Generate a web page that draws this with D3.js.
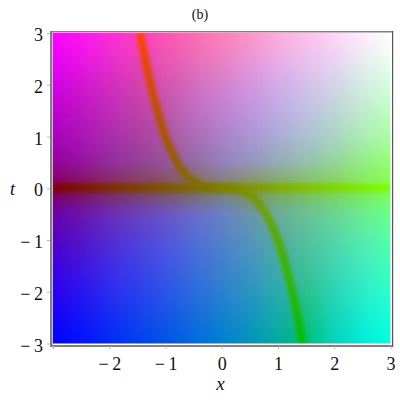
<!DOCTYPE html>
<html>
<head>
<meta charset="utf-8">
<script src="https://cdnjs.cloudflare.com/ajax/libs/d3/7.8.5/d3.min.js"></script>
<style>
  html, body { margin: 0; padding: 0; background: #fff; }
  text { font-family: "Liberation Serif", serif; fill: #111; }
</style>
</head>
<body>
<div id="chart"></div>
<script>
const width = 400, height = 400;

// sample positions of the colour table
const xGrid = [-3, -2.5, -2, -1.5, -1, -0.5, 0, 0.5, 1, 1.5, 2, 2.5, 3];
const tGrid = [3, 2.5, 2, 1.5, 1, 0.5, 0, -0.5, -1, -1.5, -2, -2.5, -3];

// red follows t, green follows x
const redByT = [1, 0.92, 0.83, 0.75, 0.67, 0.58, 0.5, 0.42, 0.33, 0.25, 0.17, 0.08, 0];
const greenByX = [0, 0.08, 0.17, 0.25, 0.33, 0.42, 0.5, 0.58, 0.67, 0.75, 0.83, 0.92, 1];

// blue, rows are tGrid, columns are xGrid
const blueTable = [
  [1.00, 0.95, 0.86, 0.76, 0.72, 0.70, 0.72, 0.78, 0.86, 0.92, 0.96, 0.99, 1.00],
  [0.97, 0.90, 0.82, 0.72, 0.70, 0.72, 0.76, 0.84, 0.90, 0.93, 0.95, 0.95, 0.94],
  [0.90, 0.82, 0.76, 0.68, 0.68, 0.74, 0.80, 0.87, 0.91, 0.92, 0.91, 0.89, 0.87],
  [0.82, 0.76, 0.72, 0.66, 0.66, 0.76, 0.82, 0.87, 0.89, 0.88, 0.85, 0.80, 0.76],
  [0.74, 0.72, 0.68, 0.64, 0.62, 0.72, 0.78, 0.83, 0.84, 0.82, 0.77, 0.71, 0.64],
  [0.62, 0.62, 0.62, 0.60, 0.60, 0.62, 0.74, 0.75, 0.72, 0.68, 0.60, 0.52, 0.44],
  [0.30, 0.30, 0.30, 0.30, 0.30, 0.30, 0.40, 0.30, 0.30, 0.30, 0.30, 0.30, 0.30],
  [0.66, 0.68, 0.72, 0.74, 0.76, 0.78, 0.78, 0.66, 0.60, 0.58, 0.58, 0.56, 0.54],
  [0.76, 0.78, 0.82, 0.84, 0.86, 0.84, 0.78, 0.74, 0.62, 0.62, 0.66, 0.68, 0.66],
  [0.86, 0.88, 0.90, 0.91, 0.90, 0.86, 0.80, 0.76, 0.66, 0.60, 0.70, 0.74, 0.74],
  [0.94, 0.94, 0.94, 0.93, 0.91, 0.87, 0.82, 0.76, 0.68, 0.56, 0.70, 0.78, 0.80],
  [0.98, 0.97, 0.96, 0.94, 0.91, 0.87, 0.82, 0.76, 0.66, 0.50, 0.72, 0.82, 0.85],
  [1.00, 0.99, 0.97, 0.95, 0.91, 0.87, 0.82, 0.74, 0.62, 0.46, 0.74, 0.84, 0.88]
];

// the dark curve through the field, (x, t)
const curveX = [-1.45, -1.36, -1.26, -1.14, -1.0, -0.79, -0.63, -0.46, -0.22, 0, 0.22, 0.46, 0.63, 0.79, 1.0, 1.14, 1.26, 1.36, 1.44];
const curveT = [3, 2.5, 2, 1.5, 1, 0.5, 0.25, 0.1, 0.01, 0, -0.01, -0.1, -0.25, -0.5, -1, -1.5, -2, -2.5, -3];
const lineX = [-3, 3];
const lineT = [0, 0];

const tickValues = [-3, -2, -1, 0, 1, 2, 3];

const svg = d3.select("#chart").append("svg")
  .attr("width", width)
  .attr("height", height)
  .style("display", "block");

const x = d3.scaleLinear().domain([-3, 3]).range([53, 390.5]);
const y = d3.scaleLinear().domain([-3, 3]).range([343.5, 33]);

// bilinear lookup in the blue table
const xIndex = d3.scaleLinear().domain(xGrid).range(d3.range(xGrid.length));
const tIndex = d3.scaleLinear().domain(tGrid).range(d3.range(tGrid.length));
const redScale = d3.scaleLinear().domain(tGrid).range(redByT);
const greenScale = d3.scaleLinear().domain(xGrid).range(greenByX);

function blueAt(xv, tv) {
  const i = xIndex(xv), j = tIndex(tv);
  const i0 = Math.min(Math.floor(i), xGrid.length - 2), j0 = Math.min(Math.floor(j), tGrid.length - 2);
  const a = d3.interpolateNumber(blueTable[j0][i0], blueTable[j0][i0 + 1])(i - i0);
  const b = d3.interpolateNumber(blueTable[j0 + 1][i0], blueTable[j0 + 1][i0 + 1])(i - i0);
  return d3.interpolateNumber(a, b)(j - j0);
}

// field cells
const cell = 3;
const cells = [];
for (let px = x(-3); px < x(3); px += cell) {
  for (let py = y(3); py < y(-3); py += cell) {
    cells.push({px, py});
  }
}

const defs = svg.append("defs");
defs.append("clipPath").attr("id", "plot").append("rect")
  .attr("x", x(-3)).attr("y", y(3))
  .attr("width", x(3) - x(-3)).attr("height", y(-3) - y(3));
defs.append("filter").attr("id", "soft")
  .attr("filterUnits", "userSpaceOnUse").attr("x", 0).attr("y", 0).attr("width", width).attr("height", height)
  .append("feGaussianBlur").attr("stdDeviation", 2.2);

const plot = svg.append("g").attr("clip-path", "url(#plot)").style("isolation", "isolate");

plot.selectAll("rect.cell")
  .data(cells)
  .enter()
  .append("rect")
  .attr("class", "cell")
  .attr("x", d => d.px)
  .attr("y", d => d.py)
  .attr("width", cell + 0.5)
  .attr("height", cell + 0.5)
  .attr("shape-rendering", "crispEdges")
  .attr("fill", d => {
    const xv = x.invert(d.px + cell / 2), tv = y.invert(d.py + cell / 2);
    const cx = Math.max(-3, Math.min(3, xv)), ct = Math.max(-3, Math.min(3, tv));
    return d3.rgb(255 * redScale(ct), 255 * greenScale(cx), 255 * blueAt(cx, ct)).toString();
  });

// yellow on multiply takes the blue out and leaves red and green alone
const curvePath = d3.line().x(d => x(d[0])).y(d => y(d[1])).curve(d3.curveCatmullRom);
const bands = [d3.zip(curveX, curveT), d3.zip(lineX, lineT)];

plot.selectAll("path.band")
  .data(bands)
  .enter()
  .append("path")
  .attr("class", "band")
  .attr("d", curvePath)
  .attr("fill", "none")
  .attr("stroke", "#ffff00")
  .attr("stroke-width", 8)
  .attr("filter", "url(#soft)")
  .style("mix-blend-mode", "multiply");

// frame
const frameColor = "#808080";
svg.append("rect").attr("x", 50).attr("y", 31).attr("width", 2.5).attr("height", 316).attr("fill", frameColor);
svg.append("rect").attr("x", 50).attr("y", 345).attr("width", 343).attr("height", 2).attr("fill", frameColor);
svg.append("rect").attr("x", 50).attr("y", 31).attr("width", 343).attr("height", 1.5).attr("fill", frameColor);
svg.append("rect").attr("x", 392).attr("y", 31).attr("width", 1.2).attr("height", 316).attr("fill", "#555");

// axes
const minusFormat = d => d < 0 ? "\u2212\u2009" + Math.abs(d) : String(d);

const xAxis = d3.axisBottom(x).tickValues(tickValues).tickFormat(d => d === -3 ? "" : minusFormat(d)).tickSize(3).tickPadding(8);
const yAxis = d3.axisLeft(y).tickValues(tickValues).tickFormat(minusFormat).tickSize(3).tickPadding(4);

const gx = svg.append("g").attr("transform", "translate(0,346)").call(xAxis);
const gy = svg.append("g").attr("transform", "translate(50,0)").call(yAxis);
[gx, gy].forEach(g => {
  g.select(".domain").remove();
  g.selectAll("line").attr("stroke", "#b8b8b8");
  g.selectAll("text").attr("font-size", 18).attr("font-family", "Liberation Serif").attr("fill", "#111");
});
gy.selectAll("text").attr("dy", "0.42em");

// labels
svg.append("text").attr("x", 200).attr("y", 19).attr("text-anchor", "middle").attr("font-size", 14).text("(b)");
svg.append("text").attr("x", 220.5).attr("y", 390).attr("text-anchor", "middle").attr("font-size", 19).attr("font-style", "italic").text("x");
svg.append("text").attr("x", 12.5).attr("y", 195).attr("text-anchor", "middle").attr("font-size", 18).attr("font-style", "italic").text("t");
</script>
</body>
</html>
